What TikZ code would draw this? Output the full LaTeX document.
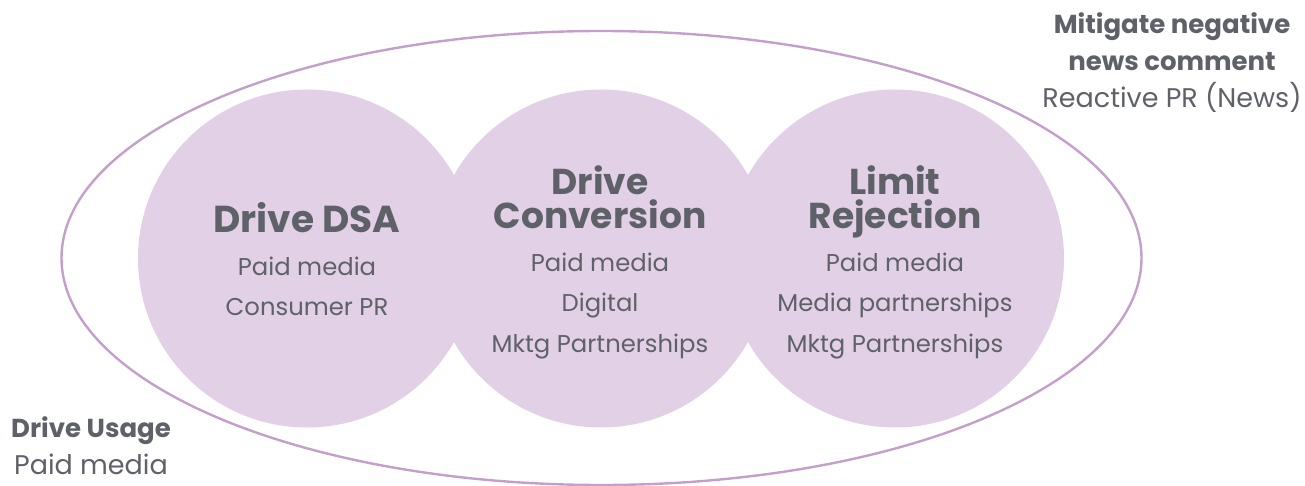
\documentclass[tikz,border=0pt]{standalone}
\usepackage{fontspec}
\setmainfont{Poppins}
\definecolor{lilac}{HTML}{E1D0E6}
\definecolor{rim}{HTML}{C49FCB}
\definecolor{ink}{HTML}{5F6169}
\begin{document}
\begin{tikzpicture}[x=1pt,y=-1pt,
  blob/.style={circle,fill=lilac,draw=none,minimum size=338pt,inner sep=0pt},
  head/.style={text=ink,font=\fontsize{36}{38}\selectfont\bfseries,anchor=base,inner sep=0pt},
  item/.style={text=ink,font=\fontsize{24.3}{26}\selectfont,anchor=base,inner sep=0pt},
  oitem/.style={text=ink,font=\fontsize{27}{29}\selectfont,anchor=base,inner sep=0pt},
  tag/.style={text=ink,font=\fontsize{26}{28}\selectfont\bfseries,anchor=base,inner sep=0pt}]
\useasboundingbox (0,0) rectangle (1305,486);
\node[blob] (c1) at (307,258.5) {};
\node[blob] (c2) at (601,258.5) {};
\node[blob] (c3) at (895,258.5) {};
\draw[rim,line width=2.4pt] (601.5,258) ellipse [x radius=540, y radius=227];
% circle 1
\node[head,font=\fontsize{37.5}{38}\selectfont\bfseries] (h1) at (307,233) {Drive DSA};
\node[item] (a1) at (307,275) {Paid media};
\node[item] (b1) at (307,315) {Consumer PR};
% circle 2
\node[head] (h2a) at (600,195) {Drive};
\node[head] (h2b) at (600,229) {Conversion};
\node[item] (a2) at (600,271) {Paid media};
\node[item] (b2) at (600,311) {Digital};
\node[item] (d2) at (600,352) {Mktg Partnerships};
% circle 3
\node[head] (h3a) at (895,195) {Limit};
\node[head] (h3b) at (895,229) {Rejection};
\node[item] (a3) at (895,271) {Paid media};
\node[item] (b3) at (895,311) {Media partnerships};
\node[item] (d3) at (895,352) {Mktg Partnerships};
% outside labels
\node[tag] (m1) at (1172,34) {Mitigate negative};
\node[tag] (m2) at (1172,71) {news comment};
\node[oitem] (m3) at (1172,108) {Reactive PR (News)};
\node[tag] (u1) at (91,437) {Drive Usage};
\node[oitem] (u2) at (91,474) {Paid media};
\end{tikzpicture}
\end{document}
